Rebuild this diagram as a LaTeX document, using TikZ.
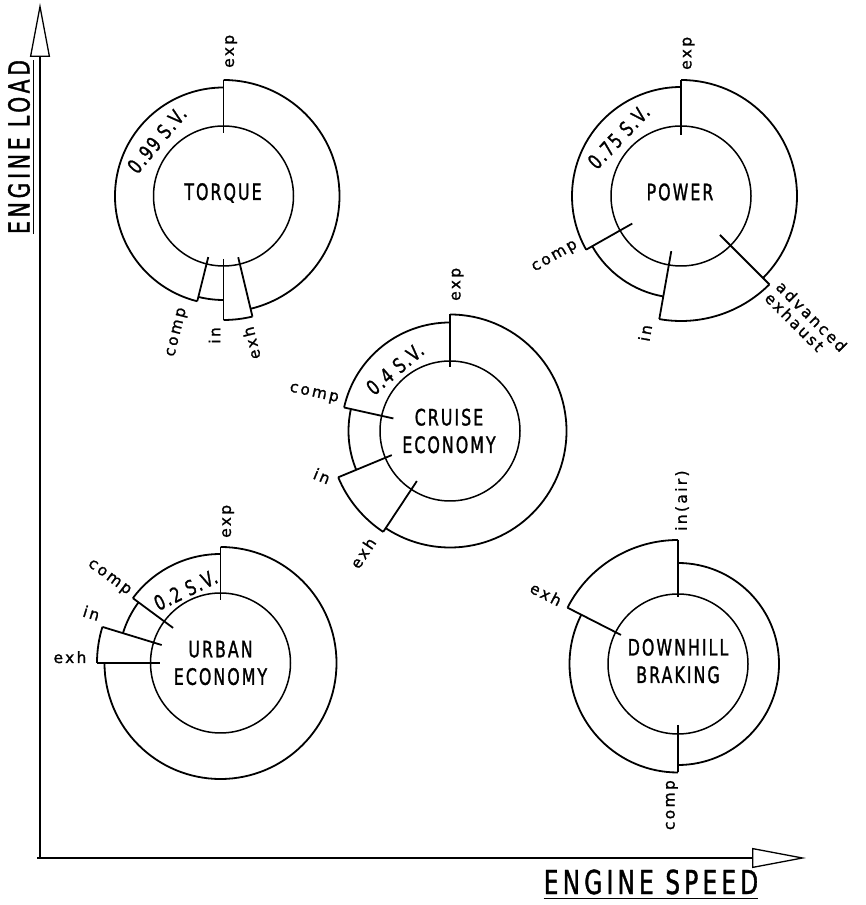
\documentclass[tikz,border=0pt]{standalone}
\usepackage{fontspec}
\setmainfont{DejaVu Sans}
\newfontfamily\capfont{DejaVu Sans}[FakeStretch=0.7,LetterSpace=9,FakeBold=1.2]
\newfontfamily\svfont{DejaVu Sans}[FakeStretch=0.75,LetterSpace=8,FakeBold=1.2]
\newfontfamily\axisfont{DejaVu Sans}[FakeStretch=0.7,LetterSpace=13,FakeBold=1.2]
\newfontfamily\lowfont{DejaVu Sans}[LetterSpace=15,FakeBold=1.2]
\usetikzlibrary{arrows.meta}

% one arc of the outer ring, and one stroke divider
\newcommand\segment[3]{\draw[ring] (#1:#3) arc[start angle=#1, end angle=#2, radius=#3];}
\newcommand\divider[3]{\draw[ring] (#1:#2) -- (#1:#3);}

\tikzset{
  ring/.style={line width=1.8pt, line join=round},
  core/.style={line width=1.5pt},
  axis/.style={line width=1.3pt, -{Triangle[open, length=54pt, width=20pt, line width=1.3pt]}},
  title/.style={font=\capfont\fontsize{22.6}{27.5}\selectfont, align=center, inner sep=0pt},
  sv/.style={font=\svfont\fontsize{20.5}{22}\selectfont, inner sep=0pt},
  stroke/.style={font=\lowfont\fontsize{15.5}{16}\selectfont, inner sep=0pt},
  axislabel/.style={font=\axisfont\fontsize{33}{35}\selectfont, inner xsep=0pt, inner ysep=3.5pt},
}

\begin{document}
\begin{tikzpicture}[x=1pt, y=1pt]
\useasboundingbox (0,0) rectangle (865,905);

% axes
\coordinate (origin) at (40,47);
\coordinate (loadtip) at (40,902);
\coordinate (speedtip) at (806,47);
\draw[axis] (origin) -- (loadtip);
\draw[axis] ([xshift=-3pt]origin) -- (speedtip);
\node[axislabel, font=\axisfont\fontsize{29}{31}\selectfont, rotate=90] (load) at (19,758) {ENGINE LOAD};
\draw[line width=1pt] (load.south west) -- (load.south east);
\node[axislabel] (speed) at (651,23) {ENGINE SPEED};
\draw[line width=1pt] (speed.south west) -- (speed.south east);

% torque
\begin{scope}[shift={(223.5,709)}]
  \draw[core] (0,0) circle[radius=70];
  \segment{90}{-76.5}{116}
  \segment{-76.5}{-90}{124}
  \segment{-90}{-104}{104}
  \segment{-104}{-270}{108.5}
  \divider{90}{63}{116}
  \divider{-76.5}{63}{124}
  \divider{-90}{63}{124}
  \divider{-104}{63}{108.5}
  \node[title] (torque) at (-0.5,3) {TORQUE};
  \node[sv, rotate=50] (torquesv) at (140:87) {0.99 S.V.};
  \node[stroke, rotate=90, anchor=north west] (torqueexp) at (1.5,128) {exp};
  \node[stroke, rotate=76, anchor=east] (torquecomp) at (-40,-112) {comp};
  \node[stroke, rotate=90, anchor=east] (torquein) at (-9,-131) {in};
  \node[stroke, rotate=103.5, anchor=east] (torqueexh) at (24,-131) {exh};
\end{scope}

% power
\begin{scope}[shift={(681,709)}]
  \draw[core] (0,0) circle[radius=70];
  \segment{90}{-45}{116}
  \segment{-45}{-100}{125}
  \segment{-100}{-150.5}{102}
  \segment{-150.5}{-270}{109}
  \divider{90}{61}{116}
  \divider{-45}{55}{125}
  \divider{-100}{56}{125}
  \divider{-150.5}{56}{109}
  \node[title] (power) at (-1,4) {POWER};
  \node[sv, rotate=46.5] (powersv) at (136.5:86) {0.75 S.V.};
  \node[stroke, rotate=90, anchor=north west] (powerexp) at (1.5,126) {exp};
  \node[stroke, rotate=29.5] (powercomp) at (-126,-61) {comp};
  \node[stroke, rotate=80] (powerin) at (-36,-137) {in};
  \node[stroke, rotate=-45, align=left] (powerexh) at (125,-126) {advanced\\exhaust};
\end{scope}

% cruise economy
\begin{scope}[shift={(450,474)}]
  \draw[core] (0,0) circle[radius=70];
  \segment{90}{-123.5}{116.5}
  \segment{-123.5}{-157.5}{121}
  \segment{-157.5}{-192.5}{101.5}
  \segment{167.5}{90}{108.5}
  \divider{90}{64}{116.5}
  \divider{-123.5}{60}{121}
  \divider{-157.5}{63}{121}
  \divider{167.5}{58}{108.5}
  \node[title] (cruise) at (-1,0) {CRUISE\\ECONOMY};
  \node[sv, rotate=40] (cruisesv) at (131.5:83) {0.4 S.V.};
  \node[stroke, rotate=90, anchor=north west] (cruiseexp) at (1.5,130) {exp};
  \node[stroke, rotate=-12.5] (cruisecomp) at (-136,37) {comp};
  \node[stroke, rotate=-22.5] (cruisein) at (-128,-45) {in};
  \node[stroke, rotate=56.5] (cruiseexh) at (-87,-122) {exh};
\end{scope}

% urban economy
\begin{scope}[shift={(220.5,242)}]
  \draw[core] (0,0) circle[radius=70];
  \segment{90}{-180}{116}
  \segment{180}{163}{123.5}
  \segment{163}{143.5}{102}
  \segment{143.5}{90}{109}
  \divider{90}{63}{116}
  \divider{180}{61}{123.5}
  \divider{163}{61.5}{123.5}
  \divider{143.5}{59}{109}
  \node[title] (urban) at (0,0) {URBAN\\ECONOMY};
  \node[sv, rotate=25.5] (urbansv) at (115.5:81) {0.2 S.V.};
  \node[stroke, rotate=90, anchor=north west] (urbanexp) at (1.5,125) {exp};
  \node[stroke, rotate=-36.5] (urbancomp) at (-111.5,85) {comp};
  \node[stroke, rotate=-17] (urbanin) at (-129,50) {in};
  \node[stroke, anchor=base] (urbanexh) at (-150.5,0) {exh};
\end{scope}

% downhill braking
\begin{scope}[shift={(678,241)}]
  \draw[core] (0,0) circle[radius=70];
  \segment{90}{-90}{101}
  \segment{-90}{-207}{108.5}
  \segment{153}{90}{124}
  \divider{90}{67}{124}
  \divider{-90}{61}{108.5}
  \divider{153}{64}{124}
  \node[title] (downhill) at (0,3) {DOWNHILL\\BRAKING};
  \node[stroke, rotate=90, anchor=west] (downhillin) at (4,133) {in(air)};
  \node[stroke, rotate=-27] (downhillexh) at (-132,70) {exh};
  \node[stroke, rotate=90, anchor=south east] (downhillcomp) at (0,-116) {comp};
\end{scope}

\end{tikzpicture}
\end{document}
